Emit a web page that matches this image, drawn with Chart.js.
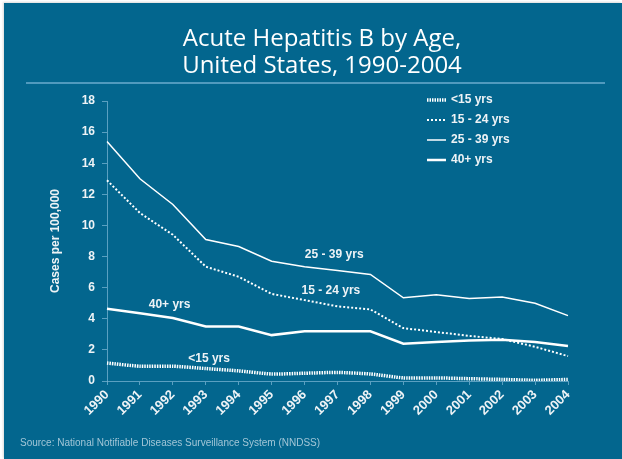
<!DOCTYPE html>
<html lang="en">
<head>
<meta charset="utf-8">
<title>Acute Hepatitis B by Age</title>
<script src="https://cdn.jsdelivr.net/npm/chart.js"></script>
<style>
    * { box-sizing: border-box; }
    body {
        margin: 0;
        background: #ffffff;
        width: 622px;
        height: 459px;
        overflow: hidden;
    }
    /* slide background, white edge on top and left like the scan */
    .slide {
        position: absolute;
        left: 4px;
        top: 3px;
        width: 618px;
        height: 456px;
        background: #03668e;
        box-shadow: -1px -1px 2px rgba(0, 0, 0, 0.15);
    }
    .wrap {
        position: absolute;
        left: 0;
        top: 0;
        width: 622px;
        height: 459px;
    }
</style>
</head>
<body>
<div class="slide"></div>
<div class="wrap"><canvas id="hepChart" width="622" height="459"></canvas></div>

<script>
    // data (cases per 100,000)
    const years = ['1990', '1991', '1992', '1993', '1994', '1995', '1996', '1997',
                   '1998', '1999', '2000', '2001', '2002', '2003', '2004'];
    const under15   = [1.15, 0.95, 0.95, 0.8, 0.65, 0.45, 0.5, 0.55, 0.45, 0.2, 0.2, 0.15, 0.1, 0.05, 0.1];
    const age15to24 = [12.9, 10.8, 9.4, 7.35, 6.7, 5.6, 5.2, 4.8, 4.6, 3.4, 3.15, 2.9, 2.7, 2.2, 1.6];
    const age25to39 = [15.4, 13.0, 11.35, 9.1, 8.65, 7.7, 7.35, 7.1, 6.85, 5.35, 5.55, 5.3, 5.4, 5.0, 4.2];
    const age40plus = [4.65, 4.35, 4.05, 3.5, 3.5, 2.95, 3.2, 3.2, 3.2, 2.4, 2.5, 2.6, 2.65, 2.5, 2.25];
    const seriesNames = ['<15 yrs', '15 - 24 yrs', '25 - 39 yrs', '40+ yrs'];
    const titleLines = ['Acute Hepatitis B by Age,', 'United States, 1990-2004'];
    const sourceText = 'Source: National Notifiable Diseases Surveillance System (NNDSS)';

    const textColor = '#eef3f6';
    const axisColor = 'rgba(120, 180, 210, 0.75)';
    const boldFont = '"Liberation Sans", Arial, sans-serif';

    // title, separator, legend, in-plot labels and source line
    const slideExtras = {
        id: 'slideExtras',
        afterDraw(chart) {
            const c = chart.ctx;
            const xs = chart.scales.x, ys = chart.scales.y;
            c.save();

            // slide title, centred on the slide rather than the plot
            c.font = '24px "Open Sans", Tahoma, sans-serif';
            c.fillStyle = '#ffffff';
            c.textAlign = 'center';
            c.textBaseline = 'alphabetic';
            c.fillText(titleLines[0], 322, 46);
            c.fillText(titleLines[1], 322, 73);

            // line under the title
            c.strokeStyle = 'rgba(90, 160, 195, 0.9)';
            c.lineWidth = 2;
            c.beginPath();
            c.moveTo(26, 83);
            c.lineTo(605, 83);
            c.stroke();

            // legend, top right
            c.font = 'bold 12px ' + boldFont;
            c.fillStyle = textColor;
            c.textBaseline = 'middle';
            c.textAlign = 'left';
            chart.data.datasets.forEach((ds, i) => {
                const y = 100 + i * 20;
                c.strokeStyle = ds.borderColor;
                c.lineWidth = ds.borderWidth;
                c.setLineDash(ds.borderDash || []);
                c.beginPath();
                c.moveTo(427, y);
                c.lineTo(446, y);
                c.stroke();
                c.setLineDash([]);
                c.fillText(ds.label, 451, y);
            });

            // labels next to the lines
            const tags = [
                { text: seriesNames[2], x: 6.9, y: 8.1 },
                { text: seriesNames[1], x: 6.8, y: 5.8 },
                { text: seriesNames[3], x: 1.9, y: 4.9 },
                { text: seriesNames[0], x: 3.1, y: 1.45 }
            ];
            c.textAlign = 'center';
            tags.forEach(t => {
                c.fillText(t.text, xs.getPixelForValue(t.x), ys.getPixelForValue(t.y));
            });

            // source note
            c.font = '10px ' + boldFont;
            c.fillStyle = 'rgba(190, 215, 228, 0.85)';
            c.textAlign = 'left';
            c.fillText(sourceText, 20, 443);
            c.restore();
        }
    };

    const ctx = document.getElementById('hepChart').getContext('2d');
    const hepChart = new Chart(ctx, {
        type: 'line',
        data: {
            labels: years,
            datasets: [
                {
                    label: seriesNames[0],
                    data: under15,
                    borderColor: '#ffffff',
                    borderWidth: 3.5,
                    borderDash: [1.5, 1],
                    pointRadius: 0,
                    tension: 0.2
                },
                {
                    label: seriesNames[1],
                    data: age15to24,
                    borderColor: '#ffffff',
                    borderWidth: 2,
                    borderDash: [2, 2],
                    pointRadius: 0,
                    tension: 0
                },
                {
                    label: seriesNames[2],
                    data: age25to39,
                    borderColor: '#ffffff',
                    borderWidth: 1.5,
                    pointRadius: 0,
                    tension: 0
                },
                {
                    label: seriesNames[3],
                    data: age40plus,
                    borderColor: '#ffffff',
                    borderWidth: 2.5,
                    pointRadius: 0,
                    tension: 0
                }
            ]
        },
        options: {
            responsive: false,
            animation: false,
            layout: {
                padding: { left: 44, right: 54, top: 101, bottom: 0 }
            },
            plugins: {
                legend: { display: false },
                tooltip: { enabled: false },
                title: { display: false }
            },
            scales: {
                x: {
                    grid: {
                        drawOnChartArea: false,
                        color: axisColor,
                        tickLength: 4
                    },
                    border: { color: axisColor, width: 1 },
                    ticks: {
                        color: textColor,
                        font: { family: boldFont, size: 13, weight: 'bold' },
                        maxRotation: 45,
                        minRotation: 45,
                        autoSkip: false,
                        padding: 2
                    },
                    afterFit(scale) { scale.height = 78; }
                },
                y: {
                    min: 0,
                    max: 18,
                    grid: {
                        drawOnChartArea: false,
                        color: axisColor,
                        tickLength: 5
                    },
                    border: { color: axisColor, width: 1 },
                    ticks: {
                        stepSize: 2,
                        color: textColor,
                        font: { family: boldFont, size: 12, weight: 'bold' },
                        padding: 7
                    },
                    title: {
                        display: true,
                        text: 'Cases per 100,000',
                        color: textColor,
                        font: { family: boldFont, size: 12, weight: 'bold' }
                    },
                    afterFit(scale) { scale.width = 63; }
                }
            }
        },
        plugins: [slideExtras]
    });
</script>
</body>
</html>
